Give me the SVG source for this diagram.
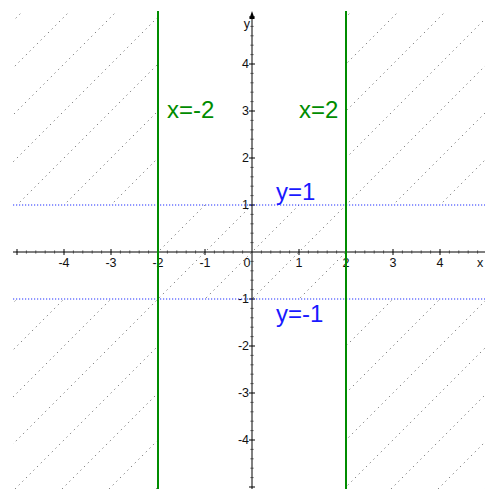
<svg xmlns="http://www.w3.org/2000/svg" width="485" height="489" viewBox="0 0 485 489">
<style>
.hatch{stroke:#7a7a7a;stroke-width:1;stroke-dasharray:1.3 3.9;fill:none}
.axis{stroke:#000;stroke-width:1;fill:none}
.minor{stroke:#444;stroke-width:1;fill:none}
.major{stroke:#000;stroke-width:1;fill:none}
.vline{stroke:#008c00;stroke-width:2;fill:none}
.hline{stroke:#2030ff;stroke-width:1.2;stroke-dasharray:1.2 1.8;fill:none}
.tick{font-family:"Liberation Sans",Arial,sans-serif;font-size:12.5px;fill:#111}
.xl{text-anchor:middle}
.yl{text-anchor:end}
.lblg{font-family:"Liberation Sans",Arial,sans-serif;font-size:24px;fill:#008c00}
.lblb{font-family:"Liberation Sans",Arial,sans-serif;font-size:24px;fill:#1a1aff}
</style>
<defs>
<clipPath id="region">
<rect x="13" y="11" width="145" height="194"/>
<rect x="346" y="11" width="139" height="194"/>
<rect x="13" y="299" width="145" height="190"/>
<rect x="346" y="299" width="139" height="190"/>
<rect x="158" y="205" width="188" height="94"/>
</clipPath>
</defs>
<rect width="485" height="489" fill="#fff"/>
<g id="hatching" clip-path="url(#region)">
<path class="hatch" d="M-466 500L34 0M-419 500L81 0M-372 500L128 0M-325 500L175 0M-278 500L222 0M-231 500L269 0M-184 500L316 0M-137 500L363 0M-90 500L410 0M-43 500L457 0M4 500L504 0M51 500L551 0M98 500L598 0M145 500L645 0M192 500L692 0M239 500L739 0M286 500L786 0M333 500L833 0M380 500L880 0M427 500L927 0M474 500L974 0"/>
</g>
<g id="axes">
<path class="axis" d="M13 252H485M252 489V15"/>
<polygon points="252,11 249.3,19 254.7,19" fill="#000"/>
<path class="minor" d="M26.4 250.5v3M35.8 250.5v3M45.2 250.5v3M54.6 250.5v3M73.4 250.5v3M82.8 250.5v3M92.2 250.5v3M101.6 250.5v3M120.4 250.5v3M129.8 250.5v3M139.2 250.5v3M148.6 250.5v3M167.4 250.5v3M176.8 250.5v3M186.2 250.5v3M195.6 250.5v3M214.4 250.5v3M223.8 250.5v3M233.2 250.5v3M242.6 250.5v3M261.4 250.5v3M270.8 250.5v3M280.2 250.5v3M289.6 250.5v3M308.4 250.5v3M317.8 250.5v3M327.2 250.5v3M336.6 250.5v3M355.4 250.5v3M364.8 250.5v3M374.2 250.5v3M383.6 250.5v3M402.4 250.5v3M411.8 250.5v3M421.2 250.5v3M430.6 250.5v3M449.4 250.5v3M458.8 250.5v3M468.2 250.5v3M477.6 250.5v3"/>
<path class="major" d="M17 249v6M64 249v6M111 249v6M158 249v6M205 249v6M299 249v6M346 249v6M393 249v6M440 249v6"/>
<path class="minor" d="M250.5 26.4h3M250.5 35.8h3M250.5 45.2h3M250.5 54.6h3M250.5 73.4h3M250.5 82.8h3M250.5 92.2h3M250.5 101.6h3M250.5 120.4h3M250.5 129.8h3M250.5 139.2h3M250.5 148.6h3M250.5 167.4h3M250.5 176.8h3M250.5 186.2h3M250.5 195.6h3M250.5 214.4h3M250.5 223.8h3M250.5 233.2h3M250.5 242.6h3M250.5 261.4h3M250.5 270.8h3M250.5 280.2h3M250.5 289.6h3M250.5 308.4h3M250.5 317.8h3M250.5 327.2h3M250.5 336.6h3M250.5 355.4h3M250.5 364.8h3M250.5 374.2h3M250.5 383.6h3M250.5 402.4h3M250.5 411.8h3M250.5 421.2h3M250.5 430.6h3M250.5 449.4h3M250.5 458.8h3M250.5 468.2h3M250.5 477.6h3"/>
<path class="major" d="M249 17h6M249 64h6M249 111h6M249 158h6M249 205h6M249 299h6M249 346h6M249 393h6M249 440h6M249 487h6"/>
</g>
<g id="tick-labels" class="tick">
<text class="xl" x="64" y="267">-4</text>
<text class="xl" x="111" y="267">-3</text>
<text class="xl" x="158" y="267">-2</text>
<text class="xl" x="205" y="267">-1</text>
<text class="xl" x="247" y="267">0</text>
<text class="xl" x="299" y="267">1</text>
<text class="xl" x="346" y="267">2</text>
<text class="xl" x="393" y="267">3</text>
<text class="xl" x="440" y="267">4</text>
<text x="477" y="267">x</text>
<text class="yl" x="249" y="68">4</text>
<text class="yl" x="249" y="115">3</text>
<text class="yl" x="249" y="162">2</text>
<text class="yl" x="249" y="209">1</text>
<text class="yl" x="249" y="303">-1</text>
<text class="yl" x="249" y="350">-2</text>
<text class="yl" x="249" y="397">-3</text>
<text class="yl" x="249" y="444">-4</text>
<text class="yl" x="250" y="28">y</text>
</g>
<g id="line-y1"><path class="hline" d="M13 205H485"/></g>
<g id="line-ym1"><path class="hline" d="M13 299H485"/></g>
<g id="line-xm2"><path class="vline" d="M158 11V489"/></g>
<g id="line-x2"><path class="vline" d="M346 11V489"/></g>
<g id="label-xm2"><text class="lblg" x="167" y="118">x=-2</text></g>
<g id="label-x2"><text class="lblg" x="299" y="118">x=2</text></g>
<g id="label-y1"><text class="lblb" x="276" y="200">y=1</text></g>
<g id="label-ym1"><text class="lblb" x="276" y="322">y=-1</text></g>
</svg>
